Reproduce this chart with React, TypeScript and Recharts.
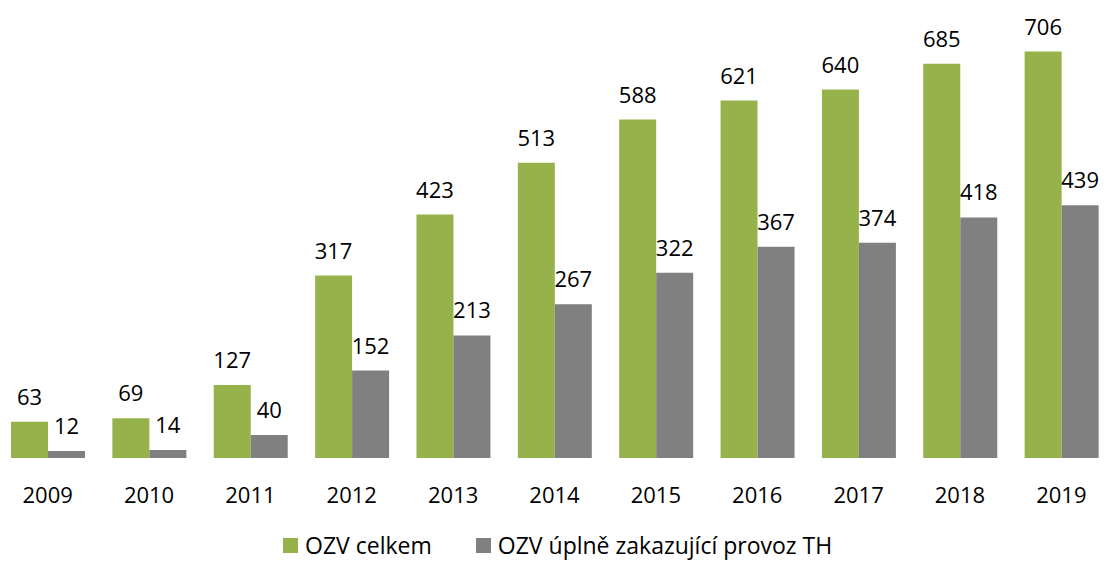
import React from "react";
import { BarChart, Bar, XAxis, YAxis, Legend, LabelList } from "recharts";

const years = ["2009", "2010", "2011", "2012", "2013", "2014", "2015", "2016", "2017", "2018", "2019"];
const ozvCelkem = [63, 69, 127, 317, 423, 513, 588, 621, 640, 685, 706];
const ozvUplne = [12, 14, 40, 152, 213, 267, 322, 367, 374, 418, 439];

const GREEN = "#96B34B";
const GRAY = "#808080";
const FONT = "'Open Sans', 'Noto Sans', sans-serif";

const data = years.map((year, i) => ({
  year,
  celkem: ozvCelkem[i],
  uplne: ozvUplne[i],
}));

function LegendBox() {
  const items = [
    { label: "OZV celkem", color: GREEN },
    { label: "OZV úplně zakazující provoz TH", color: GRAY },
  ];
  return (
    <div
      style={{
        display: "flex",
        alignItems: "center",
        height: 24,
        lineHeight: "24px",
        whiteSpace: "nowrap",
        paddingLeft: 286,
        fontFamily: FONT,
        fontSize: 23,
        color: "#000",
      }}
    >
      {items.map((it, i) => (
        <div key={it.label} style={{ display: "flex", alignItems: "center", marginRight: i === 0 ? 44 : 0 }}>
          <span style={{ width: 15, height: 15, background: it.color, display: "inline-block", marginRight: 7 }} />
          <span>{it.label}</span>
        </div>
      ))}
    </div>
  );
}

export default function App() {
  return (
    <div style={{ position: "absolute", left: -3, top: 0 }}>
      <BarChart
        width={1115}
        height={561}
        data={data}
        margin={{ top: 9, right: 0, left: 0, bottom: 19 }}
        barGap={0}
        barSize={37}
      >
        <XAxis
          dataKey="year"
          axisLine={false}
          tickLine={false}
          tickSize={0}
          tickMargin={29}
          height={60}
          interval={0}
          tick={{ fontSize: 22, fill: "#000", fontFamily: FONT }}
        />
        <YAxis hide domain={[0, 780]} />
        <Legend
          verticalAlign="bottom"
          content={() => <LegendBox />}
          wrapperStyle={{ top: 533, bottom: "auto", height: 24 }}
        />
        <Bar dataKey="celkem" fill={GREEN} isAnimationActive={false}>
          <LabelList
            dataKey="celkem"
            position="top"
            offset={17}
            style={{ fontSize: 22, fill: "#000", fontFamily: FONT }}
          />
        </Bar>
        <Bar dataKey="uplne" fill={GRAY} isAnimationActive={false}>
          <LabelList
            dataKey="uplne"
            position="top"
            offset={17}
            style={{ fontSize: 22, fill: "#000", fontFamily: FONT }}
          />
        </Bar>
      </BarChart>
    </div>
  );
}
